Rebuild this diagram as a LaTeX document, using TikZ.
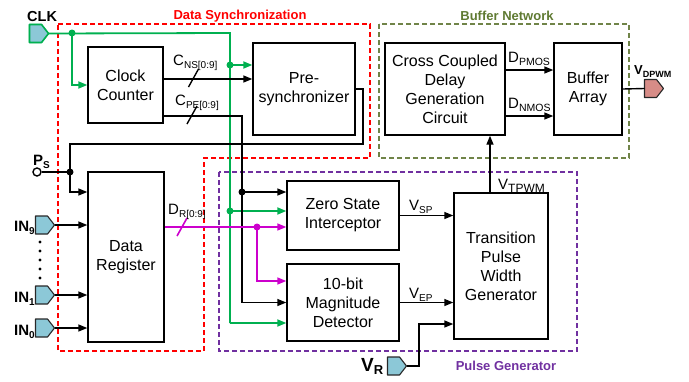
\documentclass[tikz,border=0pt]{standalone}
\usepackage{fontspec}
\setmainfont{Liberation Sans}
\usetikzlibrary{arrows.meta,calc}
\definecolor{cgreen}{RGB}{0,176,80}
\definecolor{cmag}{RGB}{204,0,204}
\definecolor{cred}{RGB}{255,0,0}
\definecolor{colive}{RGB}{112,132,72}
\definecolor{colivet}{RGB}{95,122,50}
\definecolor{cpurp}{RGB}{112,48,160}
\definecolor{cport}{RGB}{140,200,215}
\definecolor{cpink}{RGB}{215,140,135}
\definecolor{cportd}{RGB}{40,40,40}
\newcommand{\mysub}[2][10]{\raisebox{-3pt}{\fontsize{#1}{#1}\selectfont #2}}
\begin{document}
\begin{tikzpicture}[x=1pt,y=-1pt,
  blk/.style={draw, line width=1.4pt, align=center, font=\fontsize{16}{19}\selectfont, inner sep=0pt},
  port/.style={rectangle, minimum width=19pt, minimum height=18pt, inner sep=0pt, outer sep=0pt},
  portshape/.style={draw=cportd, fill=cport, line width=1.1pt, line join=round},
  wire/.style={line width=1.4pt},
  arr/.style={-{Triangle[length=9pt,width=7pt]}},
  gw/.style={cgreen, line width=1.8pt},
  mw/.style={cmag, line width=1.6pt},
  lbl/.style={font=\fontsize{15}{15}\selectfont, inner sep=0pt, anchor=base west},
  blbl/.style={font=\bfseries\fontsize{15}{15}\selectfont, inner sep=0pt},
  sec/.style={font=\bfseries\fontsize{13}{13}\selectfont, inner sep=0pt, anchor=base},
  dashbox/.style={line width=1.3pt, dash pattern=on 5pt off 3pt},
  jdot/.style={circle, fill, inner sep=0pt, minimum size=7pt}
]
\useasboundingbox (0,0) rectangle (689,381);

% dashed regions
\draw[dashbox, cred] (58,24) -- (370,24) -- (370,158) -- (204,158) -- (204,351) -- (58,351) -- cycle;
\draw[dashbox, colive] (379,24) rectangle (629,158);
\draw[dashbox, cpurp] (219,172) rectangle (577,351);
\node[sec, text=cred] (secds) at (240,19) {Data Synchronization};
\node[sec, text=colivet] (secbn) at (507,20) {Buffer Network};
\node[sec, text=cpurp] (secpg) at (506,370) {Pulse Generator};

% blocks
\node[blk, minimum width=75pt, minimum height=76pt] (cc) at (125.5,85) {Clock\\Counter};
\node[blk, minimum width=102pt, minimum height=92pt] (ps) at (304,89) {Pre-\\synchronizer};
\node[blk, minimum width=76pt, minimum height=170pt] (dr) at (126,257) {Data\\Register};
\node[blk, minimum width=112pt, minimum height=69pt] (zs) at (343,215.5) {Zero State\\Interceptor};
\node[blk, minimum width=112pt, minimum height=77pt] (md) at (343,302.5) {10-bit\\Magnitude\\Detector};
\node[blk, minimum width=94pt, minimum height=146pt] (tp) at (501,266) {Transition\\Pulse\\Width\\Generator};
\node[blk, minimum width=120pt, minimum height=92pt] (cd) at (445,89) {Cross Coupled\\Delay\\Generation\\Circuit};
\node[blk, minimum width=68pt, minimum height=92pt] (ba) at (588,89) {Buffer\\Array};

% ports (anchor boxes)
\node[port] (clk) at (39,33.5) {};
\node[port] (in9) at (45,225) {};
\node[port] (in1) at (45,295) {};
\node[port] (in0) at (45,328) {};
\node[port] (vr) at (397,366) {};
\node[port] (vd) at (654,88.5) {};
\foreach \p/\dc/\fc in {clk/cgreen/cport, in9/cportd/cport, in1/cportd/cport, in0/cportd/cport, vr/cportd/cport, vd/cportd/cpink}
  \draw[portshape, draw=\dc, fill=\fc] (\p.north west) -- ([xshift=-7pt]\p.north east) -- (\p.east) -- ([xshift=-7pt]\p.south east) -- (\p.south west) -- cycle;
\draw[portshape, draw=cgreen, fill=cport, line width=1.6pt] (clk.north west) -- ([xshift=-7pt]clk.north east) -- (clk.east) -- ([xshift=-7pt]clk.south east) -- (clk.south west) -- cycle;

\node[blbl, anchor=base west, font=\bfseries\fontsize{14.5}{14.5}\selectfont] (clkl) at (27,21) {CLK};
\node[blbl, anchor=base east] (in9l) at (35,231) {IN\mysub{9}};
\node[blbl, anchor=base east] (in1l) at (35,302) {IN\mysub{1}};
\node[blbl, anchor=base east] (in0l) at (35,335) {IN\mysub{0}};
\foreach \yy [count=\i] in {242,251,260,269,278} \fill (40,\yy) circle (1.6pt);
\node[circle, draw, line width=1.4pt, fill=white, minimum size=8pt, inner sep=0pt] (psin) at (37,172) {};
\node[blbl, anchor=base west] (psl) at (33,165) {P\mysub{S}};
\node[blbl, anchor=base west, font=\bfseries\fontsize{19}{19}\selectfont] (vrl) at (361,371) {V\mysub[13]{R}};
\node[blbl, anchor=base west, font=\bfseries\fontsize{13}{13}\selectfont] (vdl) at (634,74) {V\mysub[9]{DPWM}};

% coordinates
\coordinate (g1) at (72,33);
\coordinate (gtop) at (230,33);
\coordinate (g2) at (230,65);
\coordinate (g3) at (230,211);
\coordinate (gbot) at (230,323);
\coordinate (cnsA) at ([yshift=6pt]cc.east);
\coordinate (cpeA) at ([yshift=-31pt]cc.east);
\coordinate (kx) at (242,116);
\coordinate (k2) at (242,192);
\coordinate (p1) at (363,144);
\coordinate (p2) at (70,144);
\coordinate (psj) at (70,172);
\coordinate (drA) at ([yshift=30pt]dr.east);
\coordinate (mj) at (257,227);
\coordinate (vrk) at (419,366);
\coordinate (tpx) at ([xshift=-11pt]tp.north);

% green clock wires
\draw[gw] (clk.east) -- (gtop) -- (gbot);
\draw[gw, arr] (gbot) -- (gbot -| md.west);
\draw[gw, arr] (g1) |- (cc.west);
\draw[gw, arr] (g2) -- (g2 -| ps.west);
\draw[gw, arr] (g3) -- (g3 -| zs.west);
\node[jdot, cgreen] (dg1) at (g1) {};
\node[jdot, cgreen] (dg2) at (g2) {};
\node[jdot, cgreen] (dg3) at (g3) {};

% counter outputs
\draw[wire, arr] (cnsA) -- (cnsA -| ps.west);
\draw[wire, arr] (cpeA) -- (kx) |- (md.west);
\draw[wire, arr] (k2) -- (k2 -| zs.west);
\node[jdot] (dk2) at (k2) {};
\draw[wire] (193.5-5,78+9) -- (193.5+5,78-9);
\draw[wire] (192-5,115+9) -- (192+5,115-9);
\node[lbl] (cnsl) at (173,65) {C\mysub{NS[0:9]}};
\node[lbl] (cpel) at (175,105) {C\mysub{PE[0:9]}};

% pre-synchronizer feedback
\draw[wire, arr] (ps.east) -| (p1) -- (p2) |- ([yshift=65pt]dr.west);
\draw[wire] (psin) -- (psj);
\node[jdot] (dpsj) at (psj) {};

% inputs
\draw[wire, arr] (in9.east) -- (in9.east -| dr.west);
\draw[wire, arr] (in1.east) -- (in1.east -| dr.west);
\draw[wire, arr] (in0.east) -- (in0.east -| dr.west);

% data register output
\draw[mw, arr] (drA) -- (drA -| zs.west);
\draw[mw, arr] (mj) |- ([yshift=21.5pt]md.west);
\node[jdot, cmag] (dmj) at (mj) {};
\draw[mw] (182-5,227+9) -- (182+5,227-9);
\node[lbl] (drl) at (168,214) {D\mysub{R[0:9]}};

% pulse generator
\draw[wire, arr] (zs.east) -- (zs.east -| tp.west);
\draw[wire, arr] (md.east) -- (md.east -| tp.west);
\node[lbl] (vspl) at (409,210) {V\mysub{SP}};
\node[lbl] (vepl) at (409,298) {V\mysub{EP}};
\draw[wire, arr] (vr.east) -- (vrk) |- ([yshift=-58pt]tp.west);
\draw[wire, arr] (tpx) -- (tpx |- cd.south);
\node[lbl] (vtpl) at (498,189) {V\mysub[12]{TPWM}};

% buffer network
\coordinate (dpA) at ([yshift=19pt]cd.east);
\coordinate (dnA) at ([yshift=-27pt]cd.east);
\draw[wire, arr] (dpA) -- (dpA -| ba.west);
\draw[wire, arr] (dnA) -- (dnA -| ba.west);
\node[lbl] (dpl) at (508,62) {D\mysub[10.5]{PMOS}};
\node[lbl] (dnl) at (508,108) {D\mysub[10.5]{NMOS}};
\draw[wire] (ba.east) -- (vd.west);
\end{tikzpicture}
\end{document}
